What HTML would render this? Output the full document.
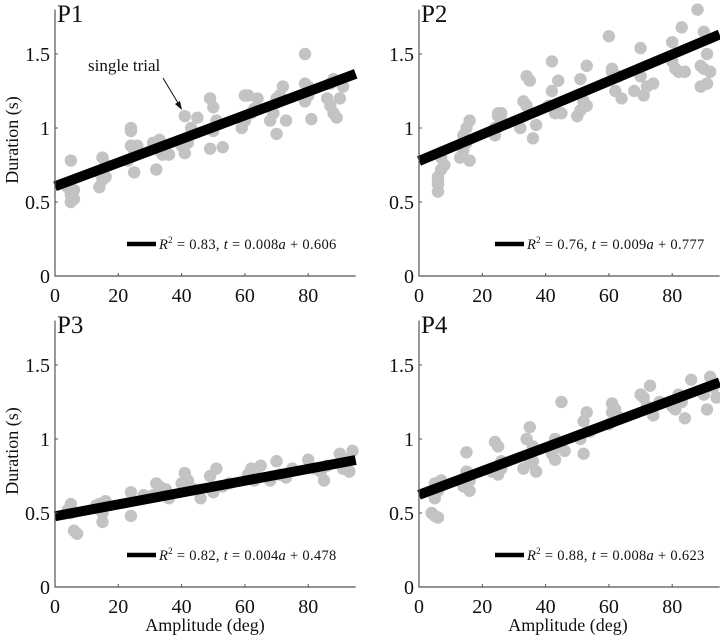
<!DOCTYPE html>
<html><head><meta charset="utf-8"><style>
html,body{margin:0;padding:0;background:#fff}
svg{display:block;font-family:"Liberation Serif",serif}
</style></head><body>
<svg id="chart" width="720" height="638" viewBox="0 0 720 638" xmlns="http://www.w3.org/2000/svg"></svg>
<script>
const xTicks=[0,20,40,60,80];
const yTicks=[0,0.5,1,1.5];
const yTickLabels=["0","0.5","1","1.5"];
const panelNames=["P1","P2","P3","P4"];
const slopes=[0.008,0.009,0.004,0.008];
const intercepts=[0.606,0.777,0.478,0.623];
const legendLabels=["0.83","0.76","0.82","0.88"];
const p1Amp=[5,5,5,6,6,4,14,15,15,16,14,16,24,24,24,26,25,23,25,31,32,33,34,35,36,33,41,41,42,43,45,40,49,50,51,49,53,50,60,61,63,64,59,60,62,68,70,70,71,72,73,69,79,79,80,79,81,80,86,87,88,89,88,90,91,87];
const p1Dur=[0.78,0.55,0.5,0.52,0.58,0.6,0.6,0.8,0.65,0.67,0.7,0.75,1.0,0.98,0.88,0.88,0.7,0.78,0.85,0.9,0.72,0.92,0.82,0.88,0.82,0.85,1.08,0.83,0.9,1.0,1.07,0.88,1.2,1.14,1.05,0.86,0.87,0.98,1.22,1.22,1.13,1.2,1.0,1.05,1.1,1.05,0.96,1.2,1.22,1.28,1.05,1.1,1.5,1.3,1.28,1.18,1.06,1.22,1.2,1.3,1.33,1.07,1.1,1.2,1.28,1.15];
const p2Amp=[6,6,6,7,7,8,6,14,15,15,16,14,13,16,24,25,26,24,25,26,33,34,35,36,37,32,34,42,42,44,43,45,41,51,53,52,51,53,50,60,61,63,64,62,61,68,70,71,72,74,70,80,81,83,82,80,84,88,89,90,91,90,89,92,91];
const p2Dur=[0.57,0.62,0.67,0.72,0.8,0.75,0.65,0.85,0.9,1.0,1.05,0.95,0.8,0.78,1.0,1.1,1.05,0.95,1.08,1.1,1.18,1.35,1.32,0.93,1.02,1.0,1.15,1.45,1.25,1.32,1.1,1.1,1.15,1.33,1.42,1.18,1.12,1.15,1.08,1.62,1.4,1.35,1.2,1.25,1.38,1.25,1.54,1.22,1.28,1.3,1.35,1.58,1.4,1.68,1.38,1.45,1.38,1.8,1.28,1.65,1.3,1.4,1.42,1.38,1.5];
const p3Amp=[5,5,6,7,4,14,15,16,15,13,24,24,28,31,33,35,36,34,32,41,42,46,44,40,49,51,50,53,55,62,63,65,61,64,70,71,73,75,68,80,82,85,84,86,90,92,94,91,93];
const p3Dur=[0.56,0.5,0.38,0.36,0.52,0.56,0.5,0.58,0.44,0.55,0.48,0.64,0.62,0.62,0.68,0.66,0.6,0.64,0.7,0.77,0.72,0.6,0.66,0.7,0.75,0.8,0.64,0.68,0.7,0.8,0.72,0.82,0.76,0.74,0.85,0.76,0.74,0.8,0.72,0.86,0.8,0.72,0.78,0.82,0.9,0.86,0.92,0.8,0.78];
const p4Amp=[4,5,6,5,6,5,7,15,15,14,14,16,16,24,25,26,26,25,23,34,35,36,36,33,35,37,45,43,43,44,46,42,53,52,54,51,52,61,62,63,60,61,73,71,72,74,76,70,86,82,83,81,84,80,92,93,94,90,91];
const p4Dur=[0.5,0.48,0.47,0.6,0.65,0.7,0.72,0.91,0.78,0.7,0.68,0.65,0.72,0.98,0.95,0.85,0.8,0.76,0.78,1.0,1.08,0.95,0.85,0.8,0.84,0.78,1.25,1.0,0.86,0.95,0.92,0.9,1.18,1.12,1.05,1.0,0.9,1.24,1.2,1.15,1.1,1.18,1.36,1.28,1.22,1.16,1.25,1.3,1.4,1.3,1.25,1.2,1.14,1.22,1.42,1.35,1.28,1.3,1.2];
const ampArrays=[p1Amp,p2Amp,p3Amp,p4Amp];
const durArrays=[p1Dur,p2Dur,p3Dur,p4Dur];

const NS="http://www.w3.org/2000/svg";
const svg=document.getElementById('chart');
function mk(tag,attrs,parent){const e=document.createElementNS(NS,tag);for(const k in attrs)e.setAttribute(k,attrs[k]);(parent||svg).appendChild(e);return e;}
const frames=[{l:55,b:276},{l:419,b:276},{l:55,b:587},{l:419,b:587}];
const XMAX=95,YMAX=1.8,PXX=63.3/20,PXY=148;

frames.forEach((f,i)=>{
  const g=mk('g',{});
  
  
  const xs=a=>f.l+a*PXX, ys=d=>f.b-d*PXY;
  const amps=ampArrays[i],durs=durArrays[i];
  amps.forEach((a,j)=>{
    const c=mk('circle',{cx:xs(a),cy:ys(durs[j]),r:6.2,fill:'#c3c3c3'},g);
    
    
  });
  const ln=mk('line',{x1:xs(0),y1:ys(intercepts[i]),x2:xs(XMAX),y2:ys(intercepts[i]+slopes[i]*XMAX),stroke:'#000','stroke-width':10},g);
  
  
  const ax=mk('path',{d:`M${f.l},${ys(YMAX)}V${f.b}H${xs(XMAX)}`,fill:'none',stroke:'#555','stroke-width':1.2},g);
  
  
  xTicks.forEach(t=>{
    mk('line',{x1:xs(t),y1:f.b,x2:xs(t),y2:f.b-3,stroke:'#555'},g);
    const tx=mk('text',{x:xs(t),y:f.b+26,'font-size':20,'text-anchor':'middle',fill:'#111'},g);
    tx.textContent=t;
    
    
  });
  yTicks.forEach((t,k)=>{
    mk('line',{x1:f.l,y1:ys(t),x2:f.l+3,y2:ys(t),stroke:'#555'},g);
    const tx=mk('text',{x:f.l-5,y:ys(t)+7,'font-size':20,'text-anchor':'end',fill:'#111'},g);
    tx.textContent=yTickLabels[k];
    
    
  });
  const pt=mk('text',{x:f.l+2,y:f.b-254,'font-size':25,fill:'#111'},g);
  pt.textContent=panelNames[i];
  
  
  const lx=f.l+(i%2?76:72), ly=f.b-32;
  const lg=mk('line',{x1:lx,y1:ly,x2:lx+29,y2:ly,stroke:'#000','stroke-width':4.5},g);
  
  
  const lt=mk('text',{x:lx+32,y:ly+5,'font-size':14.5,fill:'#111','letter-spacing':0.3},g);
  lt.innerHTML=`<tspan font-style="italic">R</tspan><tspan font-size="9" dy="-6">2</tspan><tspan dy="6"> = ${legendLabels[i]},  </tspan><tspan font-style="italic">t</tspan> = ${slopes[i]}<tspan font-style="italic">a</tspan> + ${intercepts[i]}`;
  
  
});
[140,451].forEach(y=>{
  const t=mk('text',{x:0,y:0,'font-size':18,'text-anchor':'middle',fill:'#111',transform:`translate(18,${y}) rotate(-90)`});
  t.textContent='Duration (s)';
  
  
});
[205,568].forEach(x=>{
  const t=mk('text',{x:x,y:631,'font-size':18,'text-anchor':'middle',fill:'#111'});
  t.textContent='Amplitude (deg)';
  
  
});
const an=mk('text',{x:88,y:71,'font-size':17,fill:'#111'});
an.textContent='single trial';


const ar=mk('line',{x1:163,y1:78,x2:181,y2:108,stroke:'#111','stroke-width':1});


const ah=mk('path',{d:'M182,110 L175,104 L180,101 Z',fill:'#111'});


</script>
</body></html>
